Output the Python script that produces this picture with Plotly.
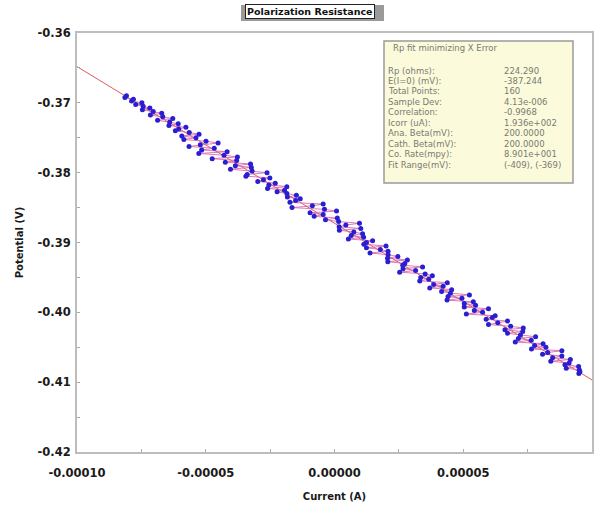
import plotly.graph_objects as go

# ---- data ----
potential_mV = [
    -369.00, -369.25, -369.50, -369.75, -370.00, -370.25, -370.50, -370.75,
    -371.00, -371.25, -371.50, -371.75, -372.00, -372.25, -372.50, -372.75,
    -373.00, -373.25, -373.50, -373.75, -374.00, -374.25, -374.50, -374.75,
    -375.00, -375.25, -375.50, -375.75, -376.00, -376.25, -376.50, -376.75,
    -377.00, -377.25, -377.50, -377.75, -378.00, -378.25, -378.50, -378.75,
    -379.00, -379.25, -379.50, -379.75, -380.00, -380.25, -380.50, -380.75,
    -381.00, -381.25, -381.50, -381.75, -382.00, -382.25, -382.50, -382.75,
    -383.00, -383.25, -383.50, -383.75, -384.00, -384.25, -384.50, -384.75,
    -385.00, -385.25, -385.50, -385.75, -386.00, -386.25, -386.50, -386.75,
    -387.00, -387.25, -387.50, -387.75, -388.00, -388.25, -388.50, -388.75,
    -389.00, -389.25, -389.50, -389.75, -390.00, -390.25, -390.50, -390.75,
    -391.00, -391.25, -391.50, -391.75, -392.00, -392.25, -392.50, -392.75,
    -393.00, -393.25, -393.50, -393.75, -394.00, -394.25, -394.50, -394.75,
    -395.00, -395.25, -395.50, -395.75, -396.00, -396.25, -396.50, -396.75,
    -397.00, -397.25, -397.50, -397.75, -398.00, -398.25, -398.50, -398.75,
    -399.00, -399.25, -399.50, -399.75, -400.00, -400.25, -400.50, -400.75,
    -401.00, -401.25, -401.50, -401.75, -402.00, -402.25, -402.50, -402.75,
    -403.00, -403.25, -403.50, -403.75, -404.00, -404.25, -404.50, -404.75,
    -405.00, -405.25, -405.50, -405.75, -406.00, -406.25, -406.50, -406.75,
    -407.00, -407.25, -407.50, -407.75, -408.00, -408.25, -408.50, -408.75,
]

current_uA = [
    -80.8, -81.4, -78.1, -78.8, -74.8, -77.2, -74.3, -71.7, -74.6, -70.4,
    -67.1, -71.5, -66.7, -62.8, -68.7, -64.0, -60.7, -64.3, -57.7, -60.5,
    -61.8, -56.4, -52.6, -59.3, -53.8, -58.5, -49.9, -45.2, -52.1, -56.5,
    -46.7, -51.6, -41.7, -52.7, -42.9, -37.7, -47.5, -38.0, -42.4, -32.6,
    -38.5, -32.3, -40.4, -32.0, -26.2, -33.9, -34.4, -25.1, -27.6, -29.8,
    -23.0, -25.5, -18.5, -26.0, -19.4, -22.3, -18.5, -14.8, -18.3, -13.3,
    -15.1, -17.3, -4.4, -8.6, -16.5, -3.9, 0.8, -9.5, -4.4, -7.9,
    1.1, -3.5, 1.6, 9.7, 4.4, 1.8, 10.2, 1.9, 7.5, 10.9,
    6.5, 11.3, 5.4, 14.8, 12.4, 11.4, 20.0, 12.4, 17.8, 20.8,
    13.8, 20.8, 24.6, 20.6, 28.3, 20.7, 27.3, 26.5, 34.2, 26.6,
    31.5, 25.3, 35.2, 38.0, 33.5, 36.6, 33.1, 43.8, 38.5, 42.2,
    37.0, 45.5, 41.6, 45.0, 52.4, 44.1, 49.5, 43.7, 53.9, 50.4,
    54.8, 50.4, 59.8, 54.3, 57.5, 51.2, 62.4, 61.3, 58.9, 67.2,
    63.4, 59.8, 68.4, 73.3, 66.2, 73.1, 67.2, 72.2, 78.1, 71.4,
    76.4, 70.2, 81.0, 77.7, 82.1, 76.5, 88.3, 82.8, 80.8, 88.3,
    84.7, 91.6, 84.0, 91.1, 89.5, 94.8, 90.0, 95.1, 95.3, 94.9,
]

# fitted line endpoints (Rp = 224.290 ohm, E(I=0) = -387.244 mV)
fit_current_A = [-0.00010, 0.00010]
fit_potential_V = [-0.364815, -0.409673]

x_tickvals = [-0.00010, -0.00005, 0.0, 0.00005, 0.00010]
x_ticktext = ["-0.00010", "-0.00005", "0.00000", "0.00005", "0.00010"]
y_tickvals = [-0.42, -0.41, -0.40, -0.39, -0.38, -0.37, -0.36]
y_ticktext = ["-0.42", "-0.41", "-0.40", "-0.39", "-0.38", "-0.37", "-0.36"]

info_title = "Rp fit minimizing X Error"
info_labels = ["Rp (ohms):", "E(I=0) (mV):", "Total Points:", "Sample Dev:",
               "Correlation:", "Icorr (uA):", "Ana. Beta(mV):", "Cath. Beta(mV):",
               "Co. Rate(mpy):", "Fit Range(mV):"]
info_values = ["224.290", "-387.244", "160", "4.13e-006", "-0.9968",
               "1.936e+002", "200.0000", "200.0000", "8.901e+001",
               "(-409), (-369)"]

current_A = [c * 1e-6 for c in current_uA]
potential_V = [p / 1000.0 for p in potential_mV]

# ---- figure ----
W, H = 616, 520
L, R, T, B = 77, 24, 33, 68
pw, ph = W - L - R, H - T - B


def px_x(x):
    return (x - L) / pw


def px_y(y):
    return (H - B - y) / ph


fig = go.Figure()
fig.add_trace(go.Scatter(
    x=fit_current_A, y=fit_potential_V, mode="lines",
    line=dict(color="#e05a5a", width=1), hoverinfo="skip", showlegend=False,
    cliponaxis=False))
fig.add_trace(go.Scatter(
    x=current_A, y=potential_V, mode="lines+markers",
    line=dict(color="rgba(214,100,170,0.85)", width=1),
    marker=dict(color="#2a1ed2", size=5, line=dict(width=0)),
    showlegend=False))

axis_font = dict(family="DejaVu Sans", size=11.5, color="#1a1a1a", weight="bold")
title_font = dict(family="DejaVu Sans", size=10, color="#1a1a1a", weight="bold")

fig.update_xaxes(
    range=[-0.00010, 0.00010], tickvals=x_tickvals, ticktext=x_ticktext,
    tickfont=axis_font, showgrid=False, zeroline=False,
    showline=True, linecolor="#bdbdbd", linewidth=2, mirror=True,
    ticks="inside", ticklen=3, tickcolor="#aaaaaa",
    minor=dict(ticks="inside", ticklen=3, dtick=0.000025, tick0=0, tickcolor="#aaaaaa"),
    ticklabelstandoff=9,
    title=dict(text="Current (A)", font=title_font, standoff=14))
fig.update_yaxes(
    range=[-0.42, -0.36], tickvals=y_tickvals, ticktext=y_ticktext,
    tickfont=axis_font, showgrid=False, zeroline=False,
    showline=True, linecolor="#bdbdbd", linewidth=2, mirror=True,
    ticks="inside", ticklen=3, tickcolor="#aaaaaa",
    minor=dict(ticks="inside", ticklen=3, dtick=0.005, tick0=0, tickcolor="#aaaaaa"),
    ticklabelstandoff=2,
    title=dict(text="Potential (V)", font=title_font, standoff=12))

shapes = []
annotations = []

# title box with shadow
shapes.append(dict(type="rect", xref="paper", yref="paper",
                   x0=px_x(241), x1=px_x(384), y0=px_y(21), y1=px_y(5),
                   fillcolor="#9a9a9a", line=dict(width=0), layer="below"))
annotations.append(dict(
    x=px_x(310), y=px_y(12), xref="paper", yref="paper",
    text="Polarization Resistance", showarrow=False,
    font=dict(family="DejaVu Sans", size=9.5, color="#111111", weight="bold"),
    bgcolor="white", bordercolor="#222222", borderwidth=1, borderpad=1,
    xanchor="center", yanchor="middle"))

# info box
shapes.append(dict(type="rect", xref="paper", yref="paper",
                   x0=px_x(384), x1=px_x(573), y0=px_y(183), y1=px_y(41),
                   fillcolor="#fbfbdc", line=dict(color="#9a9a9a", width=1.5)))
info_font = dict(family="DejaVu Sans", size=8.5, color="#7a7a72")
annotations.append(dict(
    x=px_x(391), y=px_y(48), xref="paper", yref="paper", text=info_title,
    showarrow=False, font=info_font, xanchor="left", yanchor="middle"))
for i, (lab, val) in enumerate(zip(info_labels, info_values)):
    yy = 70.5 + i * 10.45
    annotations.append(dict(
        x=px_x(386), y=px_y(yy), xref="paper", yref="paper", text=lab,
        showarrow=False, font=info_font, xanchor="left", yanchor="middle"))
    annotations.append(dict(
        x=px_x(502), y=px_y(yy), xref="paper", yref="paper", text=val,
        showarrow=False, font=info_font, xanchor="left", yanchor="middle"))

fig.update_layout(
    width=W, height=H, autosize=False,
    margin=dict(l=L, r=R, t=T, b=B),
    paper_bgcolor="white", plot_bgcolor="white",
    shapes=shapes, annotations=annotations, showlegend=False)

fig.write_html("out.html", config={"displayModeBar": False})
